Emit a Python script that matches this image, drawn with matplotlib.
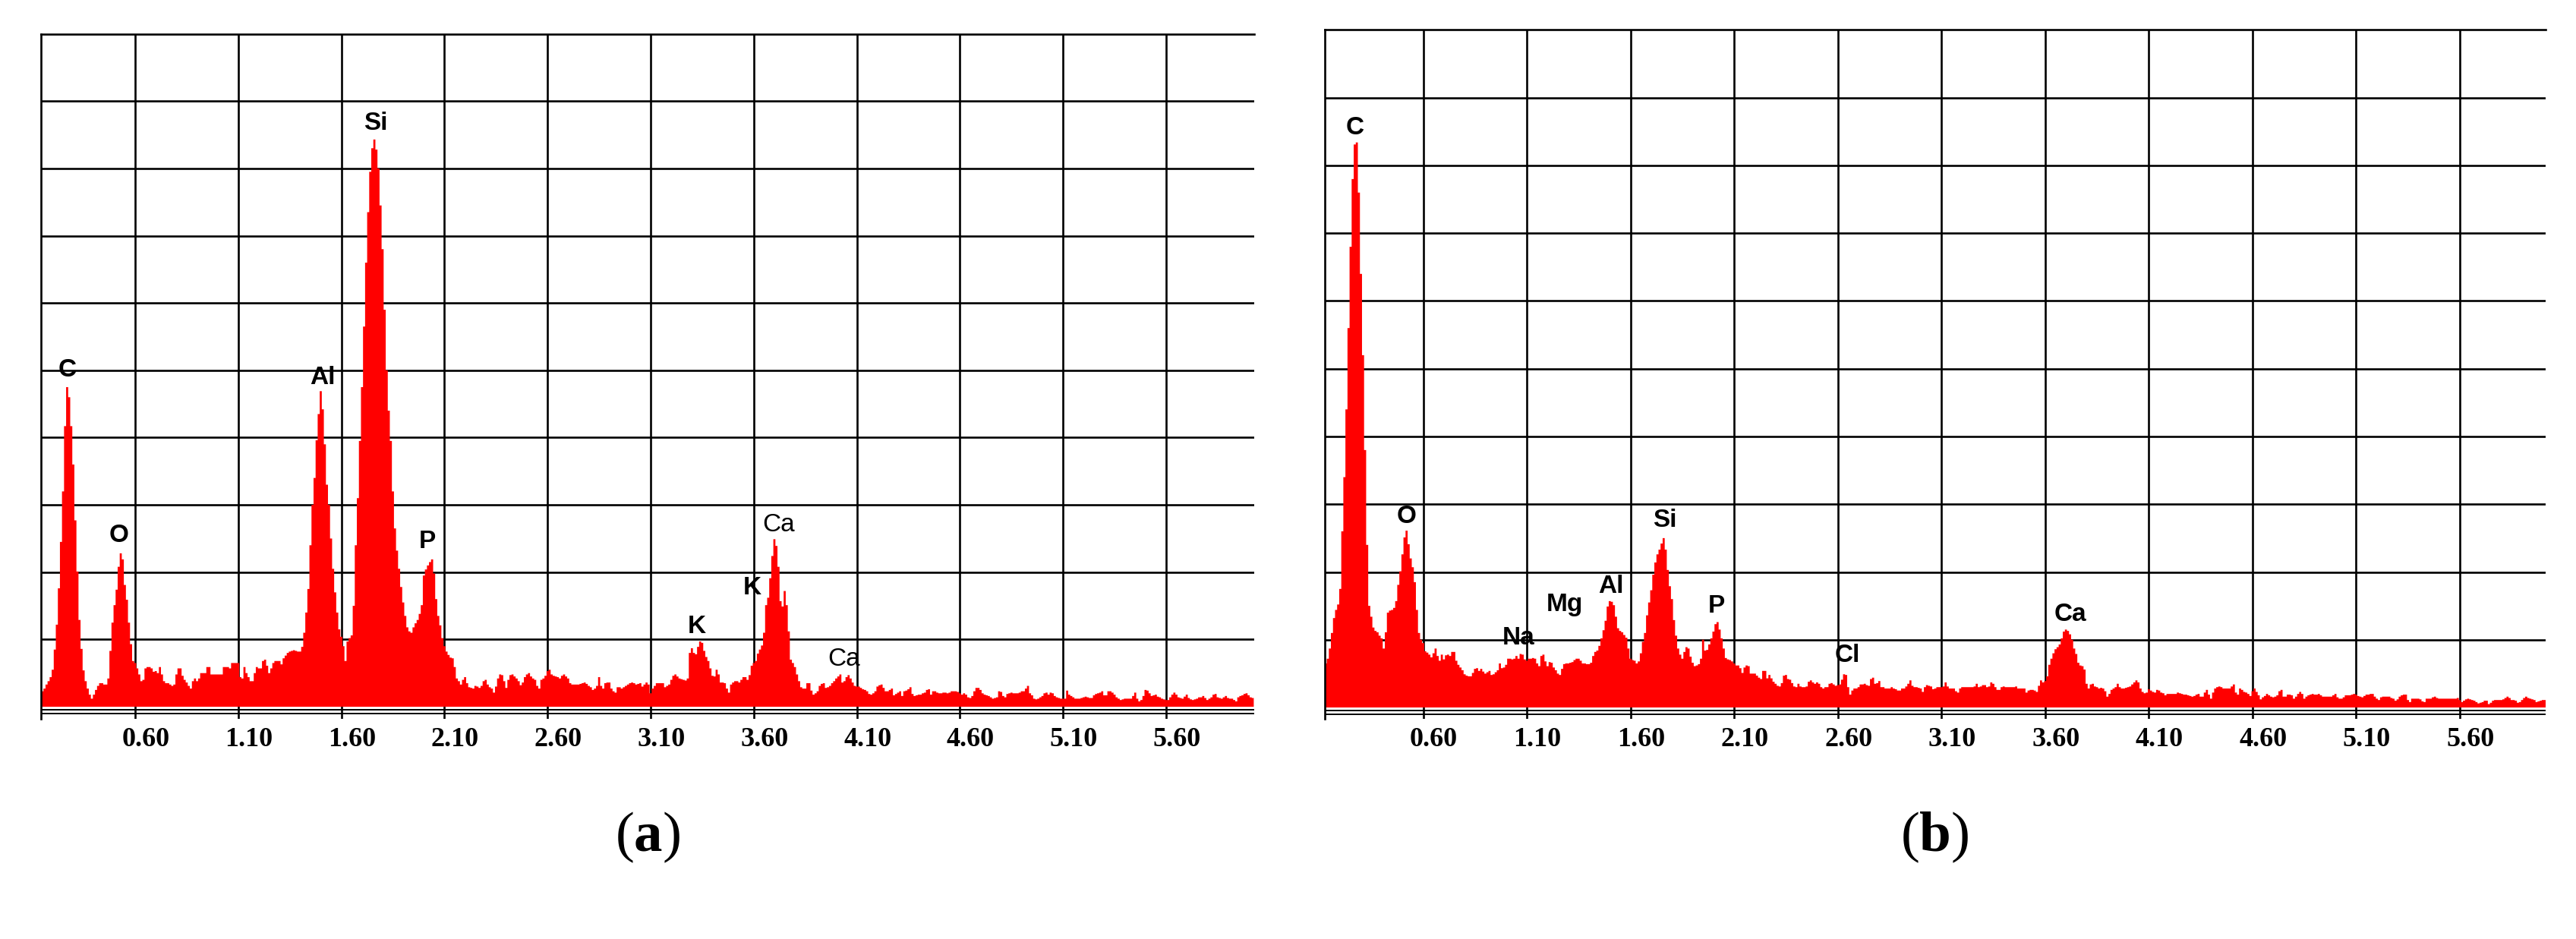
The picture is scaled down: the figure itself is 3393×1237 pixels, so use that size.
import numpy as np
import matplotlib
matplotlib.use('Agg')
import matplotlib.pyplot as plt
from matplotlib.transforms import ScaledTranslation

plt.rcParams['mathtext.fontset'] = 'custom'
plt.rcParams['mathtext.rm'] = 'Liberation Serif'
plt.rcParams['mathtext.bf'] = 'Liberation Serif:bold'

# EDS spectrum (a): 10 eV channels, first channel centred at 0.15 keV
start_a = 0.15
counts_a = [
    23, 27, 33, 38, 44, 55, 85, 122, 176, 245,
    320, 417, 475, 460, 417, 360, 277, 201, 129, 86,
    54, 38, 27, 18, 12, 18, 25, 31, 35, 35,
    33, 33, 42, 83, 125, 151, 174, 208, 228, 219,
    181, 159, 125, 93, 68, 65, 57, 48, 38, 40,
    57, 59, 59, 57, 52, 53, 50, 59, 48, 38,
    35, 35, 33, 31, 33, 48, 57, 57, 46, 40,
    36, 31, 27, 38, 42, 38, 42, 50, 50, 50,
    59, 59, 48, 48, 48, 48, 48, 48, 59, 59,
    59, 57, 65, 65, 65, 65, 44, 42, 59, 50,
    44, 38, 38, 50, 59, 57, 57, 68, 70, 61,
    50, 57, 65, 68, 68, 68, 63, 72, 76, 80,
    82, 83, 84, 83, 82, 82, 89, 110, 140, 175,
    240, 300, 340, 396, 435, 469, 442, 390, 330, 300,
    250, 205, 170, 140, 115, 104, 90, 68, 97, 102,
    106, 150, 240, 310, 395, 475, 565, 660, 735, 795,
    830, 843, 828, 800, 745, 680, 590, 500, 440, 395,
    320, 265, 232, 205, 178, 155, 135, 118, 112, 110,
    118, 124, 129, 138, 151, 195, 204, 210, 215, 219,
    198, 160, 135, 121, 102, 90, 82, 77, 73, 72,
    59, 42, 38, 33, 40, 44, 35, 29, 28, 27,
    31, 30, 28, 31, 38, 40, 33, 29, 27, 21,
    30, 42, 48, 47, 38, 28, 40, 47, 48, 45,
    42, 38, 32, 36, 44, 48, 50, 45, 42, 40,
    31, 27, 40, 42, 46, 53, 55, 48, 46, 45,
    44, 42, 46, 48, 45, 42, 35, 33, 33, 33,
    33, 34, 35, 36, 34, 31, 29, 25, 27, 31,
    44, 31, 27, 35, 36, 36, 27, 23, 21, 29,
    29, 27, 29, 31, 33, 35, 36, 35, 33, 34,
    35, 30, 33, 36, 33, 20, 27, 31, 35, 35,
    35, 35, 29, 31, 33, 40, 46, 48, 45, 42,
    41, 40, 39, 42, 80, 87, 80, 78, 89, 97,
    95, 83, 74, 68, 57, 46, 45, 55, 48, 36,
    36, 35, 27, 21, 33, 36, 38, 38, 36, 40,
    44, 44, 40, 47, 61, 65, 68, 79, 85, 91,
    110, 151, 162, 191, 224, 249, 239, 208, 157, 149,
    172, 151, 112, 70, 65, 59, 48, 38, 29, 27,
    27, 35, 35, 24, 18, 20, 23, 31, 34, 35,
    28, 29, 31, 35, 38, 42, 45, 48, 36, 38,
    44, 47, 42, 36, 31, 30, 30, 28, 26, 25,
    23, 19, 18, 20, 23, 30, 32, 33, 28, 23,
    23, 25, 27, 17, 19, 21, 23, 16, 23, 24,
    26, 29, 19, 16, 17, 18, 18, 20, 21, 25,
    26, 18, 23, 23, 21, 20, 20, 21, 21, 20,
    21, 23, 23, 23, 22, 20, 18, 20, 18, 14,
    13, 16, 23, 28, 28, 25, 20, 18, 17, 16,
    14, 12, 13, 14, 23, 22, 16, 14, 19, 20,
    21, 20, 20, 20, 21, 23, 23, 27, 31, 20,
    17, 12, 11, 12, 14, 16, 20, 21, 18, 21,
    20, 16, 14, 13, 12, 12, 12, 24, 18, 16,
    14, 12, 12, 12, 13, 14, 15, 14, 13, 13,
    17, 19, 20, 21, 23, 17, 17, 23, 23, 21,
    18, 14, 12, 10, 11, 12, 12, 12, 12, 16,
    21, 12, 8, 10, 16, 25, 24, 20, 16, 17,
    18, 15, 14, 12, 11, 10, 10, 14, 18, 21,
    18, 14, 13, 12, 15, 18, 13, 11, 10, 11,
    12, 14, 14, 16, 13, 10, 12, 14, 18, 19,
    14, 13, 12, 14, 16, 13, 12, 12, 10, 8,
    14, 16, 17, 19, 20, 17, 14, 13,
]

# EDS spectrum (b): first channel centred at 0.13 keV
start_b = 0.13
counts_b = [
    65, 72, 87, 110, 132, 144, 152, 175, 260, 340,
    440, 560, 680, 780, 831, 834, 760, 640, 520, 380,
    240, 150, 134, 118, 113, 111, 106, 102, 87, 111,
    140, 143, 144, 147, 157, 181, 201, 226, 251, 261,
    241, 220, 207, 185, 144, 110, 100, 95, 83, 81,
    78, 74, 80, 87, 76, 69, 78, 71, 77, 78,
    76, 82, 82, 69, 63, 59, 55, 49, 47, 46,
    46, 51, 57, 58, 54, 57, 53, 50, 52, 54,
    48, 49, 52, 55, 65, 58, 59, 63, 72, 72,
    71, 72, 76, 72, 79, 78, 71, 69, 72, 72,
    73, 72, 65, 61, 76, 78, 68, 61, 67, 66,
    59, 55, 50, 48, 57, 64, 65, 65, 66, 67,
    70, 72, 72, 69, 65, 65, 64, 64, 66, 76,
    82, 84, 91, 102, 114, 128, 149, 157, 156, 151,
    134, 117, 113, 111, 107, 103, 87, 72, 70, 69,
    65, 68, 80, 97, 110, 136, 155, 173, 196, 214,
    226, 233, 242, 250, 233, 203, 179, 160, 129, 106,
    87, 78, 72, 82, 89, 87, 75, 66, 61, 62,
    64, 72, 100, 84, 85, 93, 102, 112, 123, 126,
    115, 102, 87, 73, 71, 70, 68, 65, 62, 62,
    58, 51, 59, 62, 61, 50, 50, 50, 47, 44,
    42, 54, 54, 43, 48, 43, 38, 35, 32, 31,
    36, 47, 48, 42, 41, 36, 31, 30, 35, 31,
    30, 30, 31, 38, 40, 37, 35, 37, 35, 30,
    28, 30, 30, 35, 36, 34, 32, 33, 34, 41,
    49, 48, 30, 19, 25, 28, 28, 30, 34, 34,
    35, 33, 32, 42, 44, 35, 36, 39, 30, 30,
    28, 28, 28, 30, 28, 27, 25, 25, 28, 28,
    31, 35, 40, 32, 30, 30, 29, 28, 23, 30,
    33, 32, 31, 27, 28, 30, 30, 30, 31, 37,
    31, 28, 28, 28, 24, 22, 28, 30, 30, 30,
    30, 30, 30, 31, 35, 30, 31, 33, 33, 30,
    31, 37, 35, 30, 26, 26, 30, 31, 30, 30,
    30, 30, 30, 31, 28, 28, 28, 28, 22, 25,
    26, 26, 25, 23, 32, 40, 37, 39, 46, 63,
    72, 80, 86, 89, 93, 102, 112, 115, 113, 108,
    100, 87, 79, 66, 62, 61, 56, 35, 28, 34,
    35, 31, 30, 28, 29, 28, 24, 16, 20, 26,
    28, 30, 35, 30, 28, 28, 29, 30, 31, 34,
    37, 40, 37, 28, 23, 21, 22, 27, 25, 23,
    22, 26, 25, 22, 21, 18, 20, 20, 20, 20,
    20, 22, 21, 20, 19, 19, 18, 17, 16, 17,
    19, 20, 16, 16, 22, 26, 19, 13, 22, 28,
    30, 31, 30, 28, 28, 28, 28, 31, 34, 22,
    19, 28, 26, 23, 22, 20, 17, 24, 28, 23,
    18, 12, 15, 17, 20, 18, 16, 15, 16, 18,
    24, 26, 16, 16, 19, 19, 18, 13, 16, 20,
    23, 20, 13, 16, 18, 19, 20, 19, 19, 20,
    18, 16, 16, 16, 16, 16, 18, 20, 15, 13,
    13, 15, 18, 18, 18, 19, 20, 19, 17, 16,
    15, 17, 19, 19, 20, 20, 16, 13, 11, 15,
    16, 16, 16, 16, 14, 13, 10, 12, 16, 18,
    19, 19, 11, 8, 13, 13, 13, 13, 12, 9,
    8, 13, 13, 13, 15, 16, 14, 13, 13, 13,
    13, 13, 13, 13, 13, 13, 14, 11, 8, 10,
    12, 13, 12, 11, 10, 8, 6, 7, 8, 10,
    10, 5, 7, 10, 11, 11, 11, 11, 12, 14,
    16, 14, 11, 11, 10, 7, 8, 11, 14, 16,
    14, 13, 12, 11, 8, 9, 10, 11, 11,
]

channel = 0.01

tick_kev = [0.60, 1.10, 1.60, 2.10, 2.60, 3.10, 3.60, 4.10, 4.60, 5.10, 5.60]
tick_labels = ['0.60', '1.10', '1.60', '2.10', '2.60', '3.10',
               '3.60', '4.10', '4.60', '5.10', '5.60']

# peak labels: name, energy (keV), label baseline (counts), weight
labels_a = ['C', 'O', 'Al', 'Si', 'P', 'K', 'K', 'Ca', 'Ca']
label_x_a = [0.272, 0.519, 1.509, 1.767, 2.016, 3.325, 3.593, 3.721, 4.038]
label_y_a = [491, 245, 479, 857, 236, 110, 167, 261, 61]
weight_a = ['bold', 'bold', 'bold', 'bold', 'bold', 'bold', 'bold', 'normal', 'normal']

labels_b = ['C', 'O', 'Na', 'Mg', 'Al', 'Si', 'P', 'Cl', 'Ca']
label_x_b = [0.272, 0.518, 1.060, 1.281, 1.506, 1.764, 2.016, 2.645, 3.720]
label_y_b = [846, 272, 93, 142, 169, 267, 140, 67, 128]
weight_b = ['bold', 'bold', 'bold', 'bold', 'bold', 'bold', 'bold', 'bold', 'bold']

fig = plt.figure(figsize=(33.93, 12.37), dpi=100)


def draw_panel(rect, start, counts, xlim, ymin, names, lx, ly, lw_, tag):
    ax = fig.add_axes(rect)
    edges = start - channel / 2 + channel * np.arange(len(counts) + 1)
    ax.set_xlim(*xlim)
    ax.set_ylim(ymin, 1000)

    for t in tick_kev:
        ax.axvline(t, color='black', lw=1.9, zorder=1)
    for g in range(100, 1000, 100):
        ax.axhline(g, color='black', lw=1.9, zorder=1)
    # double base line under the spectrum
    ax.axhline(-4, color='black', lw=1.4, zorder=1)
    ax.axhline(-10, color='black', lw=1.4, zorder=1)

    ax.stairs(counts, edges, fill=True, color='#ff0000', baseline=0, zorder=2)

    for s in ['right', 'bottom']:
        ax.spines[s].set_visible(False)
    for s in ['left', 'top']:
        ax.spines[s].set_linewidth(1.9)
    ax.set_xticks([])
    ax.set_yticks([])

    off = ScaledTranslation(0.14, -0.11, fig.dpi_scale_trans)
    for t, lab in zip(tick_kev, tick_labels):
        ax.text(t, 0, lab, transform=ax.get_xaxis_transform() + off,
                ha='center', va='top', fontsize=26, fontweight='bold',
                family='Liberation Serif')

    for n, x, y, w in zip(names, lx, ly, lw_):
        ax.text(x, y, n, ha='center', va='baseline', fontsize=24,
                fontweight=w, family='Liberation Sans', zorder=3)

    cx = rect[0] + rect[2] / 2
    fig.text(cx, 0.108, r'($\mathbf{' + tag + '}$)', ha='center', va='center',
             fontsize=54, family='Liberation Serif')
    return ax


draw_panel([0.01606, 0.23444, 0.47097, 0.72951], start_a, counts_a,
           (0.145, 6.029), -18, labels_a, label_x_a, label_y_a, weight_a, 'a')
draw_panel([0.51424, 0.23444, 0.47383, 0.73363], start_b, counts_b,
           (0.125, 6.012), -16.8, labels_b, label_x_b, label_y_b, weight_b, 'b')

fig.savefig('out.png', dpi=100, facecolor='white')
